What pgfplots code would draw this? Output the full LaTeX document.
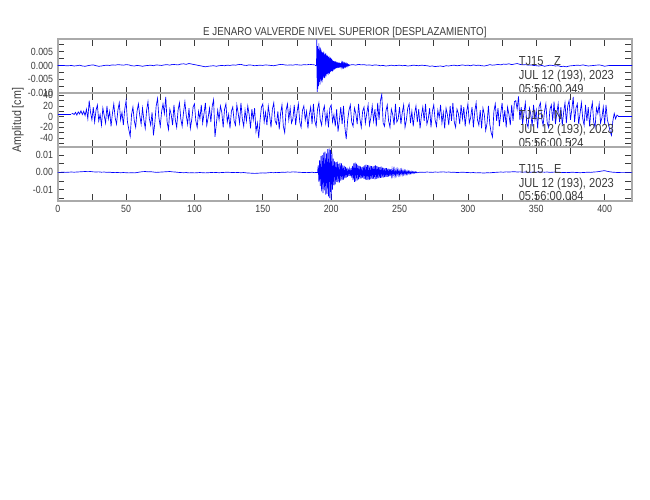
\documentclass[border=0pt]{standalone}
\usepackage{pgfplots}
\pgfplotsset{compat=1.18}
\usepackage{fontspec}
\setmainfont{Liberation Sans}[FakeStretch=0.85]

\definecolor{trace}{RGB}{0,0,255}
\definecolor{frame}{RGB}{170,170,170}
\definecolor{ink}{RGB}{60,60,60}
\newcommand\tickfont{\fontsize{7.8}{9}\selectfont}
\newcommand\notefont{\fontsize{9.8}{11}\selectfont}
\newcommand\titlefont{\fontsize{8.6}{10}\selectfont}

\pgfplotsset{
  seis/.style={
    scale only axis, width=430.7pt, height=40.4pt, anchor=north west,
    xmin=0, xmax=420,
    xtick={0,50,...,400}, minor xtick={25,75,...,425},
    tick align=inside,
    major tick length=5pt, minor tick length=5pt,
    tick style={ink, line width=0.5pt},
    axis line style={frame, line width=1.4pt},
    tick label style={font=\tickfont, text=ink},
    /pgf/number format/assume math mode=true,
    scaled y ticks=false,
    clip mode=individual,
  },
  sig/.style={trace, line width=0.5pt, mark=none},
}
\tikzset{note/.style={anchor=base west, inner sep=0pt, font=\notefont, text=ink}}

\begin{document}
\begin{tikzpicture}
\path[use as bounding box] (0,0) rectangle (487.5pt,-375pt);

% ---- Z component
\begin{axis}[seis, at={(43.3pt,-29.5pt)},
  ymin=-0.0101, ymax=0.0095,
  ytick={-0.01,-0.005,0,0.005}, minor ytick={-0.0075,-0.0025,0.0025,0.0075},
  yticklabel style={/pgf/number format/fixed, /pgf/number format/fixed zerofill, /pgf/number format/precision=3},
  xticklabels={}]
\addplot[sig] table[header=false, row sep=\\, x expr=\coordindex*2, y index=0] {
0\\0\\0\\-1e-4\\-1e-4\\0\\-2e-4\\-1e-4\\1e-4\\-2e-4\\
-3e-4\\-1e-4\\1e-4\\2e-4\\-1e-4\\-3e-4\\-2e-4\\0\\1e-4\\0\\
2e-4\\1e-4\\3e-4\\2e-4\\1e-4\\3e-4\\2e-4\\-1e-4\\-2e-4\\0\\
-1e-4\\-3e-4\\-1e-4\\0\\1e-4\\-1e-4\\2e-4\\1e-4\\0\\2e-4\\
3e-4\\1e-4\\4e-4\\3e-4\\2e-4\\5e-4\\6e-4\\4e-4\\7e-4\\5e-4\\
3e-4\\1e-4\\-1e-4\\-3e-4\\-5e-4\\-3e-4\\-2e-4\\-1e-4\\-3e-4\\-1e-4\\
0\\-1e-4\\1e-4\\0\\2e-4\\1e-4\\3e-4\\4e-4\\1e-4\\0\\
2e-4\\1e-4\\-1e-4\\0\\1e-4\\0\\2e-4\\1e-4\\0\\-1e-4\\
1e-4\\3e-4\\4e-4\\2e-4\\1e-4\\2e-4\\1e-4\\3e-4\\2e-4\\1e-4\\
3e-4\\2e-4\\4e-4\\3e-4\\2e-4\\
};
\addplot[sig] coordinates {(188,2e-4) (189,2e-4)};
\addplot[sig] table[header=false, row sep=\\, x expr=\coordindex*0.25+189, y index=0] {
2e-4\\0\\95e-4\\-100e-4\\70e-4\\-85e-4\\60e-4\\-75e-4\\80e-4\\-60e-4\\
55e-4\\-70e-4\\65e-4\\-50e-4\\58e-4\\-55e-4\\50e-4\\-62e-4\\48e-4\\-52e-4\\
45e-4\\-40e-4\\50e-4\\-44e-4\\38e-4\\-46e-4\\42e-4\\-36e-4\\44e-4\\-40e-4\\
36e-4\\-32e-4\\38e-4\\-30e-4\\34e-4\\-35e-4\\30e-4\\-28e-4\\33e-4\\-30e-4\\
26e-4\\-24e-4\\28e-4\\-22e-4\\25e-4\\-20e-4\\24e-4\\-22e-4\\18e-4\\-20e-4\\
17e-4\\-14e-4\\16e-4\\-15e-4\\13e-4\\-12e-4\\15e-4\\-11e-4\\14e-4\\-10e-4\\
11e-4\\-10e-4\\9e-4\\-8e-4\\12e-4\\-9e-4\\8e-4\\-7e-4\\10e-4\\-8e-4\\
7e-4\\-6e-4\\8e-4\\-5e-4\\6e-4\\-7e-4\\5e-4\\-4e-4\\7e-4\\-4e-4\\
5e-4\\-4e-4\\4e-4\\-3e-4\\6e-4\\-2e-4\\4e-4\\-3e-4\\5e-4\\-1e-4\\
3e-4\\-2e-4\\4e-4\\0\\2e-4\\-1e-4\\3e-4\\1e-4\\0\\1e-4\\
};
\addplot[sig] coordinates {(213.75,1e-4) (214,2e-4)};
\addplot[sig] table[header=false, row sep=\\, x expr=\coordindex*2+214, y index=0] {
2e-4\\3e-4\\1e-4\\4e-4\\2e-4\\3e-4\\1e-4\\2e-4\\0\\2e-4\\
1e-4\\-1e-4\\0\\-2e-4\\-1e-4\\1e-4\\-1e-4\\0\\1e-4\\-1e-4\\
0\\-2e-4\\-1e-4\\1e-4\\0\\-1e-4\\1e-4\\0\\-1e-4\\-3e-4\\
-2e-4\\-4e-4\\-3e-4\\-2e-4\\-4e-4\\-1e-4\\-2e-4\\0\\1e-4\\-1e-4\\
0\\2e-4\\0\\1e-4\\-1e-4\\2e-4\\0\\1e-4\\-1e-4\\-2e-4\\
0\\3e-4\\1e-4\\2e-4\\4e-4\\2e-4\\5e-4\\4e-4\\6e-4\\3e-4\\
5e-4\\7e-4\\4e-4\\2e-4\\3e-4\\1e-4\\2e-4\\0\\-1e-4\\-2e-4\\
0\\-3e-4\\-1e-4\\1e-4\\0\\-2e-4\\-1e-4\\-4e-4\\-3e-4\\-5e-4\\
-2e-4\\-1e-4\\0\\1e-4\\0\\2e-4\\0\\-2e-4\\-1e-4\\0\\
1e-4\\2e-4\\0\\-3e-4\\-1e-4\\0\\0\\0\\0\\0\\
0\\0\\0\\0\\
};
\node[anchor=base, font=\titlefont, text=ink] at ([yshift=3pt]rel axis cs:0.5,1) {E JENARO VALVERDE NIVEL SUPERIOR [DESPLAZAMIENTO]};
\node[note] at (rel axis cs:0.8024,0.512) {TJ15\hspace{8pt}Z};
\node[note] at (rel axis cs:0.8024,0.256) {JUL 12 (193), 2023};
\node[note] at (rel axis cs:0.8024,0) {05:56:00.249};
\end{axis}

% ---- N component
\begin{axis}[seis, at={(43.3pt,-69.9pt)},
  ymin=-57, ymax=44,
  ytick={-40,-20,0,20,40}, minor ytick={-50,-30,-10,10,30},
  xticklabels={}]
\addplot[sig] coordinates {(0,5) (10,5)};
\addplot[sig] table[header=false, row sep=\\, x expr=\coordindex+10, y index=0] {
5\\6\\4\\8\\3\\9\\5\\11\\4\\10\\
2\\14\\-4\\30\\8\\-6\\18\\-10\\12\\22\\
-8\\4\\-16\\16\\2\\-12\\20\\-4\\10\\-18\\
6\\24\\-2\\-14\\12\\26\\-6\\8\\-16\\14\\
30\\-10\\-24\\-37\\4\\18\\-8\\-20\\10\\24\\
2\\-14\\16\\-6\\-22\\12\\28\\-4\\-16\\8\\
-35\\-12\\20\\34\\-2\\-18\\10\\24\\6\\37\\
-10\\-24\\14\\4\\-16\\22\\-6\\-20\\12\\26\\
-4\\-18\\8\\28\\2\\-14\\16\\-22\\-6\\18\\
24\\-8\\-20\\10\\-4\\22\\-12\\6\\26\\-16\\
-2\\16\\-10\\20\\32\\-38\\-14\\12\\-6\\20\\
8\\-20\\14\\24\\-10\\4\\-22\\10\\18\\-8\\
-16\\22\\6\\-12\\26\\-4\\-18\\12\\-8\\20\\
4\\-22\\14\\-6\\16\\-28\\-12\\-40\\-6\\18\\
24\\-10\\8\\-16\\20\\2\\-20\\14\\26\\-8\\
-14\\10\\-24\\6\\22\\-18\\-30\\12\\24\\-6\\
16\\-12\\-4\\22\\-16\\8\\24\\-10\\-20\\12\\
20\\-6\\10\\-22\\4\\18\\-14\\24\\-8\\-18\\
14\\26\\-6\\-16\\10\\20\\-12\\8\\-20\\16\\
22\\-10\\4\\-18\\14\\-28\\-6\\18\\-14\\20\\
-20\\-42\\-8\\12\\22\\-10\\-18\\16\\6\\-14\\
24\\-4\\-20\\10\\18\\-12\\6\\22\\-16\\-2\\
20\\-8\\14\\-18\\26\\-6\\30\\42\\-12\\-18\\
10\\22\\-8\\-20\\14\\4\\-16\\24\\-10\\-4\\
18\\-14\\8\\22\\-20\\-6\\16\\24\\-12\\10\\
-18\\6\\20\\-10\\14\\-22\\2\\18\\-8\\24\\
-14\\-4\\16\\-20\\10\\22\\-6\\-18\\12\\-2\\
22\\-12\\8\\-22\\16\\4\\-16\\20\\-8\\26\\
-10\\-20\\14\\6\\-14\\22\\-4\\18\\-18\\8\\
24\\-12\\-2\\18\\-20\\10\\26\\-6\\-16\\12\\
-22\\16\\4\\-26\\-12\\20\\-14\\-30\\-38\\10\\
24\\-8\\16\\-18\\6\\26\\-10\\12\\-20\\18\\
4\\-16\\22\\-8\\28\\30\\14\\38\\-6\\18\\
-14\\8\\26\\-12\\-20\\16\\4\\-18\\22\\-6\\
12\\-22\\18\\26\\-4\\-16\\10\\24\\-12\\-20\\
14\\22\\-8\\28\\-14\\6\\24\\-10\\18\\-16\\
8\\26\\-12\\20\\30\\-6\\14\\37\\-10\\16\\
24\\-14\\6\\26\\-4\\-16\\22\\-8\\18\\-18\\
12\\26\\-10\\-20\\16\\6\\24\\-12\\-2\\18\\
-14\\22\\-6\\-16\\-28\\-35\\-8\\6\\-4\\3\\
1\\
};
\addplot[sig] coordinates {(410,1) (420,1)};
\node[rotate=90, font=\fontsize{9.4}{11}\selectfont, text=ink] at ([xshift=-29.8pt]rel axis cs:0,0.5) {Amplitud [cm]};
\node[note] at (rel axis cs:0.8024,0.512) {TJ15\hspace{8pt}N};
\node[note] at (rel axis cs:0.8024,0.256) {JUL 12 (193), 2023};
\node[note] at (rel axis cs:0.8024,0) {05:56:00.524};
\end{axis}

% ---- E component
\begin{axis}[seis, at={(43.3pt,-110.3pt)},
  ymin=-0.0166, ymax=0.0147,
  ytick={-0.01,0,0.01}, minor ytick={-0.015,-0.005,0.005},
  yticklabel style={/pgf/number format/fixed, /pgf/number format/fixed zerofill, /pgf/number format/precision=2}]
\addplot[sig] table[header=false, row sep=\\, x expr=\coordindex*2, y index=0] {
0\\0\\1e-4\\0\\1e-4\\2e-4\\1e-4\\2e-4\\3e-4\\4e-4\\
5e-4\\4e-4\\5e-4\\3e-4\\2e-4\\3e-4\\1e-4\\2e-4\\0\\1e-4\\
-1e-4\\0\\-1e-4\\-2e-4\\-1e-4\\-2e-4\\-3e-4\\-2e-4\\-3e-4\\-1e-4\\
2e-4\\4e-4\\5e-4\\3e-4\\4e-4\\2e-4\\0\\1e-4\\2e-4\\3e-4\\
4e-4\\5e-4\\3e-4\\2e-4\\0\\-1e-4\\-2e-4\\-1e-4\\-3e-4\\-2e-4\\
-3e-4\\-2e-4\\-1e-4\\-2e-4\\-3e-4\\-2e-4\\-1e-4\\0\\-1e-4\\-2e-4\\
-1e-4\\0\\1e-4\\0\\-1e-4\\0\\-1e-4\\-2e-4\\-1e-4\\-3e-4\\
-4e-4\\-5e-4\\-6e-4\\-5e-4\\-4e-4\\-3e-4\\-4e-4\\-2e-4\\-1e-4\\-2e-4\\
0\\-1e-4\\1e-4\\0\\2e-4\\1e-4\\3e-4\\2e-4\\1e-4\\0\\
-1e-4\\0\\-1e-4\\1e-4\\-2e-4\\
};
\addplot[sig] coordinates {(188,-2e-4) (190,-2e-4)};
\addplot[sig] table[header=false, row sep=\\, x expr=\coordindex*0.5+190, y index=0] {
-2e-4\\40e-4\\-55e-4\\70e-4\\-80e-4\\95e-4\\-110e-4\\100e-4\\-120e-4\\115e-4\\
-105e-4\\120e-4\\-130e-4\\110e-4\\-125e-4\\135e-4\\-140e-4\\140e-4\\-150e-4\\130e-4\\
-160e-4\\120e-4\\-100e-4\\80e-4\\-75e-4\\65e-4\\-70e-4\\60e-4\\-55e-4\\62e-4\\
-58e-4\\50e-4\\-60e-4\\55e-4\\-48e-4\\52e-4\\-45e-4\\40e-4\\-42e-4\\38e-4\\
-35e-4\\32e-4\\-30e-4\\28e-4\\-26e-4\\22e-4\\-20e-4\\18e-4\\-22e-4\\25e-4\\
-30e-4\\38e-4\\-45e-4\\52e-4\\-55e-4\\58e-4\\-52e-4\\50e-4\\-46e-4\\44e-4\\
-40e-4\\38e-4\\-36e-4\\34e-4\\-35e-4\\30e-4\\-32e-4\\35e-4\\-38e-4\\40e-4\\
-42e-4\\45e-4\\-44e-4\\42e-4\\-45e-4\\40e-4\\-42e-4\\38e-4\\-40e-4\\36e-4\\
-38e-4\\35e-4\\-36e-4\\38e-4\\-40e-4\\42e-4\\-38e-4\\36e-4\\-35e-4\\32e-4\\
-34e-4\\30e-4\\-32e-4\\34e-4\\-30e-4\\28e-4\\-30e-4\\26e-4\\-28e-4\\25e-4\\
-27e-4\\24e-4\\-26e-4\\22e-4\\-24e-4\\20e-4\\-22e-4\\19e-4\\-20e-4\\18e-4\\
-18e-4\\17e-4\\-19e-4\\16e-4\\-17e-4\\15e-4\\-16e-4\\14e-4\\-15e-4\\13e-4\\
-14e-4\\12e-4\\-13e-4\\14e-4\\-12e-4\\11e-4\\-12e-4\\10e-4\\-11e-4\\9e-4\\
-10e-4\\8e-4\\-9e-4\\7e-4\\-8e-4\\6e-4\\-7e-4\\5e-4\\-6e-4\\4e-4\\
-5e-4\\4e-4\\-4e-4\\3e-4\\-3e-4\\2e-4\\-2e-4\\
};
\addplot[sig] coordinates {(263,-2e-4) (264,0)};
\addplot[sig] table[header=false, row sep=\\, x expr=\coordindex*2+264, y index=0] {
0\\1e-4\\0\\2e-4\\1e-4\\0\\2e-4\\1e-4\\2e-4\\3e-4\\
1e-4\\2e-4\\0\\1e-4\\-1e-4\\0\\1e-4\\0\\-1e-4\\-2e-4\\
-1e-4\\-3e-4\\-2e-4\\-3e-4\\-4e-4\\-2e-4\\-3e-4\\-1e-4\\0\\1e-4\\
2e-4\\1e-4\\3e-4\\2e-4\\3e-4\\4e-4\\2e-4\\3e-4\\1e-4\\2e-4\\
0\\1e-4\\2e-4\\1e-4\\3e-4\\2e-4\\1e-4\\2e-4\\0\\1e-4\\
2e-4\\1e-4\\0\\-1e-4\\0\\-1e-4\\1e-4\\0\\-1e-4\\-2e-4\\
-1e-4\\0\\1e-4\\0\\2e-4\\3e-4\\5e-4\\8e-4\\10e-4\\6e-4\\
3e-4\\1e-4\\0\\-1e-4\\0\\0\\0\\0\\0\\
};
\node[note] at (rel axis cs:0.8024,0.512) {TJ15\hspace{8pt}E};
\node[note] at (rel axis cs:0.8024,0.256) {JUL 12 (193), 2023};
\node[note] at (rel axis cs:0.8024,0) {05:56:00.084};
\end{axis}
\end{tikzpicture}
\end{document}
